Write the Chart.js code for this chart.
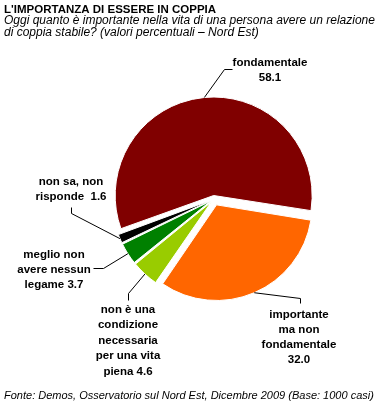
<!DOCTYPE html>
<html>
<head>
<meta charset="utf-8">
<script src="https://cdn.jsdelivr.net/npm/chart.js@4/dist/chart.umd.min.js"></script>
<style>
    html, body { margin: 0; padding: 0; background: #fff; }
    #wrap { position: relative; width: 390px; height: 414px; }
</style>
</head>
<body>
<div id="wrap"><canvas id="pieChart" width="390" height="414"></canvas></div>
<script>
// data
const categories = [
    "fondamentale",
    "importante ma non fondamentale",
    "non è una condizione necessaria per una vita piena",
    "meglio non avere nessun legame",
    "non sa, non risponde"
];
const values = [58.1, 32.0, 4.6, 3.7, 1.6];
const sliceColors = ["#800000", "#FF6600", "#99CC00", "#008000", "#000000"];

// how each label is broken on lines, {v} is the value
const labelLines = [
    ["fondamentale", "{v}"],
    ["importante", "ma non", "fondamentale", "{v}"],
    ["non è una", "condizione", "necessaria", "per una vita", "piena {v}"],
    ["meglio non", "avere nessun", "legame {v}"],
    ["non sa, non", "risponde  {v}"]
];

const titleText = "L'IMPORTANZA DI ESSERE IN COPPIA";
const subtitleLines = [
    "Oggi quanto è importante nella vita di una persona avere un relazione",
    "di coppia stabile? (valori percentuali – Nord Est)"
];
const sourceText = "Fonte: Demos, Osservatorio sul Nord Est, Dicembre 2009 (Base: 1000 casi)";

const FONT = "Arial, 'Liberation Sans', sans-serif";
const EXPLODE = 7; // px every slice is pulled out

// label placement: text centre x, first baseline, line step, elbow points of the leader
const labelPos = [
    { x: 270, y: 66, step: 15, leader: [[224, 69], [232, 69]] },
    { x: 299, y: 318, step: 15, leader: [[300, 298], [300, 303]] },
    { x: 128, y: 313, step: 15.4, leader: [[128, 293], [128, 300]] },
    { x: 54, y: 258, step: 15, leader: [[103, 268], [93, 268]] },
    { x: 71, y: 185, step: 15, leader: [[71, 213], [71, 207]] }
];

const total = values.reduce((a, b) => a + b, 0);

// chart.js moves an arc by offset/4*(1+fix), turn that into EXPLODE px
function sliceOffset(ctx) {
    const circ = values[ctx.dataIndex] / total * Math.PI * 2;
    const fix = 1 - Math.sin(Math.min(Math.PI, circ));
    return EXPLODE * 4 / (1 + fix);
}

const textPlugin = {
    id: "texts",
    afterDraw(chart) {
        const c = chart.ctx;
        c.save();
        c.fillStyle = "#000";
        c.textBaseline = "alphabetic";

        c.textAlign = "left";
        c.font = "bold 11.5px " + FONT;
        c.fillText(titleText, 4, 13);
        c.font = "italic 12px " + FONT;
        c.fillText(subtitleLines[0], 4, 24);
        c.fillText(subtitleLines[1], 4, 36);
        c.font = "italic 11px " + FONT;
        c.fillText(sourceText, 4, 399);

        const meta = chart.getDatasetMeta(0);
        c.strokeStyle = "#000";
        c.lineWidth = 1;
        meta.data.forEach((arc, i) => {
            const p = arc.getProps(["x", "y", "startAngle", "endAngle", "outerRadius"], true);
            const mid = (p.startAngle + p.endAngle) / 2;
            const ax = p.x + Math.cos(mid) * (EXPLODE + p.outerRadius);
            const ay = p.y + Math.sin(mid) * (EXPLODE + p.outerRadius);
            const pos = labelPos[i];
            c.beginPath();
            c.moveTo(ax, ay);
            pos.leader.forEach(pt => c.lineTo(pt[0] + 0.5, pt[1] + 0.5));
            c.stroke();

            c.textAlign = "center";
            c.font = "bold 11.5px " + FONT;
            labelLines[i].forEach((line, k) => {
                const txt = line.replace("{v}", values[i].toFixed(1));
                c.fillText(txt, pos.x, pos.y + k * pos.step);
            });
        });
        c.restore();
    }
};

new Chart(document.getElementById("pieChart").getContext("2d"), {
    type: "pie",
    data: {
        labels: categories,
        datasets: [{
            data: values,
            backgroundColor: sliceColors,
            borderColor: "#ffffff",
            borderWidth: 1,
            offset: sliceOffset
        }]
    },
    options: {
        responsive: false,
        animation: false,
        rotation: 250,
        radius: 95,
        layout: { padding: { left: 100, right: 62, top: 100, bottom: 116 } },
        plugins: {
            legend: { display: false },
            tooltip: { enabled: false }
        }
    },
    plugins: [textPlugin]
});
</script>
</body>
</html>
